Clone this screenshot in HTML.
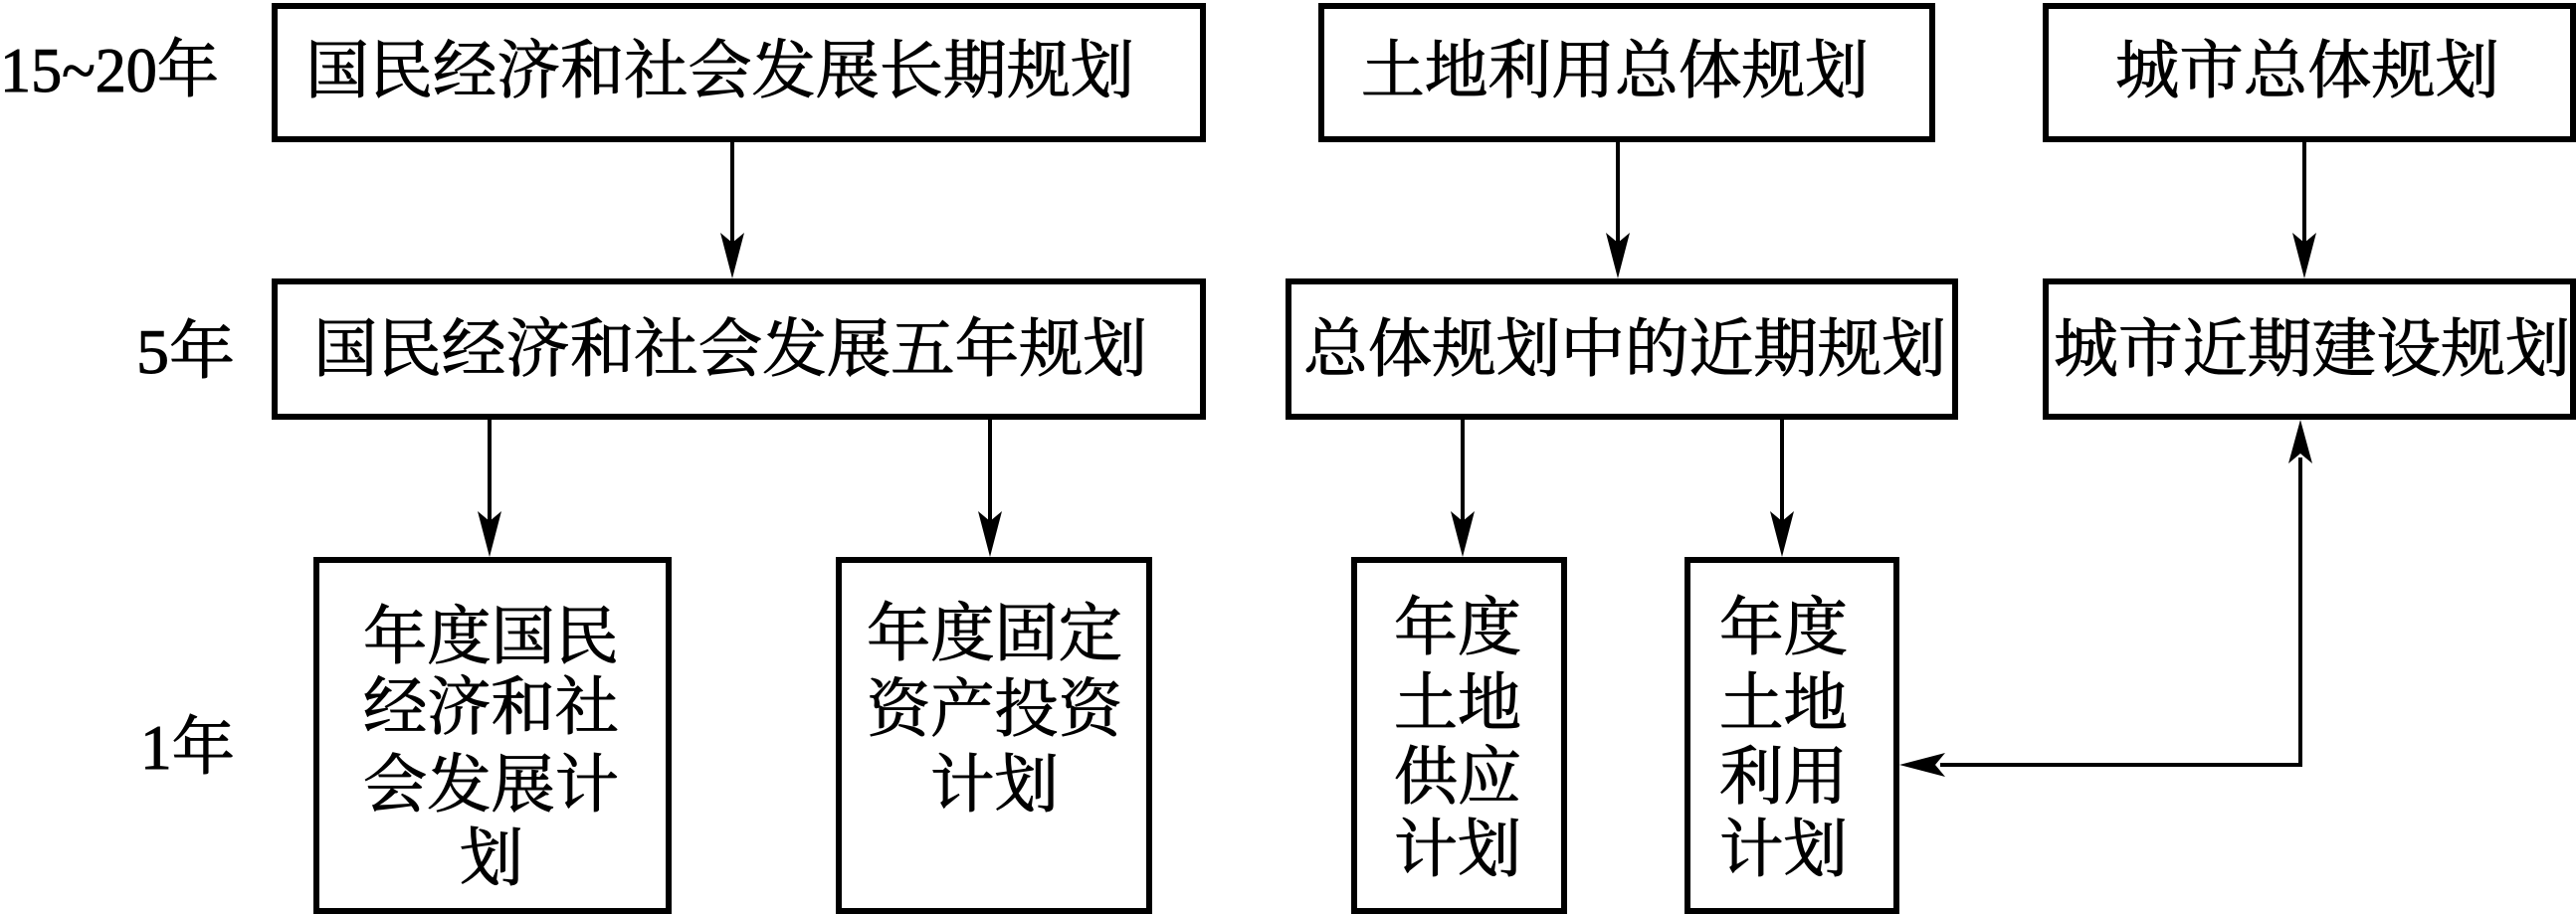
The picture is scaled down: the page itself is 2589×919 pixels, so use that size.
<!DOCTYPE html>
<html><head><meta charset="utf-8"><style>
html,body{margin:0;padding:0;background:#fff;}
svg{display:block;}
text{font-family:"Liberation Serif","Noto Serif CJK SC","Noto Sans CJK SC",serif;fill:#000;stroke:#000;stroke-width:1;}
</style></head><body>
<svg width="2589" height="919" viewBox="0 0 2589 919" xmlns="http://www.w3.org/2000/svg">
<g fill="none" stroke="#000" stroke-width="6">
<rect x="276" y="6" width="933" height="134"/>
<rect x="276" y="283" width="933" height="136"/>
<rect x="318" y="563" width="354" height="353"/>
<rect x="843" y="563" width="312" height="353"/>
<rect x="1328" y="6" width="614" height="134"/>
<rect x="2056" y="6" width="530" height="134"/>
<rect x="1295" y="283" width="670" height="136"/>
<rect x="2056" y="283" width="530" height="136"/>
<rect x="1361" y="563" width="211" height="353"/>
<rect x="1696" y="563" width="210" height="353"/>
</g>
<g stroke="#000" stroke-width="4" fill="none">
<line x1="736" y1="143" x2="736" y2="260"/>
<line x1="492" y1="422" x2="492" y2="540"/>
<line x1="995" y1="422" x2="995" y2="540"/>
<line x1="1626" y1="143" x2="1626" y2="260"/>
<line x1="2316" y1="143" x2="2316" y2="260"/>
<line x1="1470" y1="422" x2="1470" y2="540"/>
<line x1="1791" y1="422" x2="1791" y2="540"/>
<polyline points="2312,460 2312,769 1950,769"/>
</g>
<g fill="#000">
<path d="M736,280 L724,234 L736,244 L748,234 Z"/>
<path d="M492,560 L480,514 L492,524 L504,514 Z"/>
<path d="M995,560 L983,514 L995,524 L1007,514 Z"/>
<path d="M1626,280 L1614,234 L1626,244 L1638,234 Z"/>
<path d="M2316,280 L2304,234 L2316,244 L2328,234 Z"/>
<path d="M1470,560 L1458,514 L1470,524 L1482,514 Z"/>
<path d="M1791,560 L1779,514 L1791,524 L1803,514 Z"/>
<path d="M2312,422 L2300,466 L2312,456 L2324,466 Z"/>
<path d="M1909,769 L1955,757 L1945,769 L1955,781 Z"/>
</g>
<g font-size="64">
<text x="0" y="92" textLength="220" lengthAdjust="spacingAndGlyphs">15~20年</text>
<text x="137" y="375" textLength="99" lengthAdjust="spacingAndGlyphs">5年</text>
<text x="141" y="773" textLength="95" lengthAdjust="spacingAndGlyphs">1年</text>

<text x="307" y="93" textLength="833" lengthAdjust="spacingAndGlyphs">国民经济和社会发展长期规划</text>
<text x="315" y="373" textLength="838" lengthAdjust="spacingAndGlyphs">国民经济和社会发展五年规划</text>
<text x="1368" y="93" textLength="510" lengthAdjust="spacingAndGlyphs">土地利用总体规划</text>
<text x="2126" y="93" textLength="386" lengthAdjust="spacingAndGlyphs">城市总体规划</text>
<text x="1310" y="373" textLength="646" lengthAdjust="spacingAndGlyphs">总体规划中的近期规划</text>
<text x="2064" y="373" textLength="519" lengthAdjust="spacingAndGlyphs">城市近期建设规划</text>

<text x="365" y="662" textLength="257" lengthAdjust="spacingAndGlyphs">年度国民</text>
<text x="365" y="733" textLength="257" lengthAdjust="spacingAndGlyphs">经济和社</text>
<text x="365" y="811" textLength="257" lengthAdjust="spacingAndGlyphs">会发展计</text>
<text x="462" y="885">划</text>

<text x="871" y="659" textLength="257" lengthAdjust="spacingAndGlyphs">年度固定</text>
<text x="871" y="735" textLength="257" lengthAdjust="spacingAndGlyphs">资产投资</text>
<text x="935" y="811" textLength="129" lengthAdjust="spacingAndGlyphs">计划</text>

<text x="1401" y="653" textLength="128" lengthAdjust="spacingAndGlyphs">年度</text>
<text x="1401" y="729" textLength="128" lengthAdjust="spacingAndGlyphs">土地</text>
<text x="1401" y="803" textLength="128" lengthAdjust="spacingAndGlyphs">供应</text>
<text x="1401" y="876" textLength="128" lengthAdjust="spacingAndGlyphs">计划</text>

<text x="1728" y="653" textLength="129" lengthAdjust="spacingAndGlyphs">年度</text>
<text x="1728" y="729" textLength="129" lengthAdjust="spacingAndGlyphs">土地</text>
<text x="1728" y="803" textLength="129" lengthAdjust="spacingAndGlyphs">利用</text>
<text x="1728" y="876" textLength="129" lengthAdjust="spacingAndGlyphs">计划</text>
</g>
</svg>
</body></html>
